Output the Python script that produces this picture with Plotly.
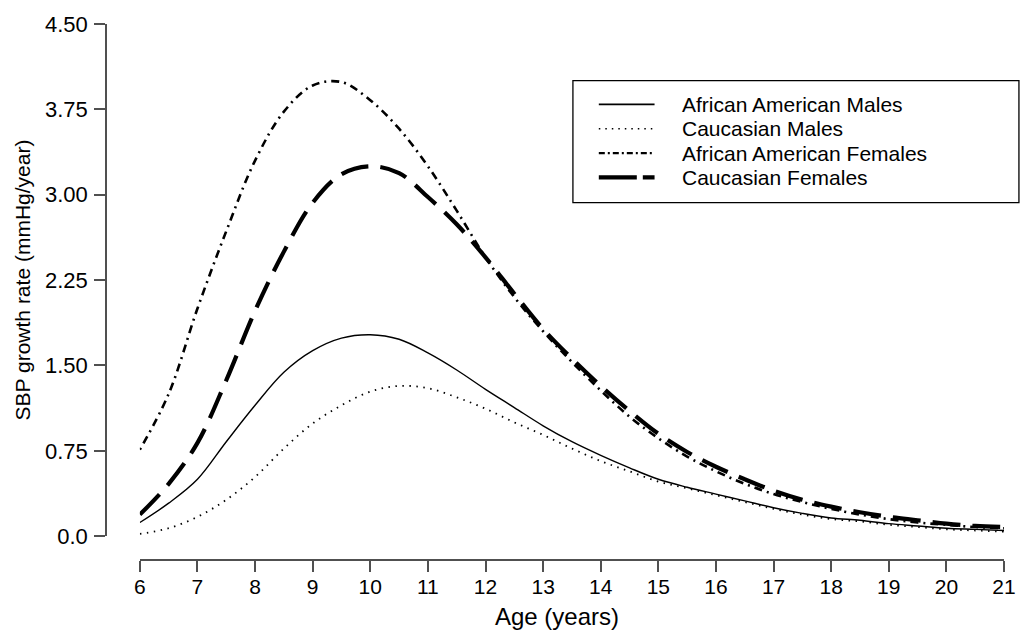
import plotly.graph_objects as go

ages = [6, 6.5, 7, 7.5, 8, 8.5, 9, 9.5, 10, 10.5, 11, 11.5, 12, 12.5, 13, 13.5, 14,
        14.5, 15, 15.5, 16, 16.5, 17, 17.5, 18, 18.5, 19, 19.5, 20, 20.5, 21]

aa_males = [0.12, 0.29, 0.50, 0.83, 1.15, 1.44, 1.63, 1.74, 1.77, 1.73, 1.61, 1.46, 1.29,
            1.13, 0.97, 0.83, 0.71, 0.60, 0.50, 0.43, 0.37, 0.31, 0.25, 0.20, 0.16, 0.14,
            0.11, 0.09, 0.07, 0.06, 0.05]
cau_males = [0.02, 0.07, 0.17, 0.32, 0.52, 0.77, 0.99, 1.15, 1.27, 1.32, 1.30, 1.22, 1.12,
             1.00, 0.89, 0.77, 0.66, 0.57, 0.48, 0.42, 0.36, 0.30, 0.24, 0.19, 0.15, 0.13,
             0.10, 0.08, 0.06, 0.05, 0.04]
aa_females = [0.76, 1.25, 2.00, 2.68, 3.30, 3.73, 3.96, 3.99, 3.83, 3.58, 3.25, 2.86, 2.45,
              2.10, 1.80, 1.53, 1.28, 1.05, 0.86, 0.70, 0.57, 0.46, 0.37, 0.30, 0.24, 0.19,
              0.15, 0.12, 0.10, 0.08, 0.07]
cau_females = [0.19, 0.46, 0.82, 1.37, 1.98, 2.50, 2.93, 3.18, 3.25, 3.19, 2.98, 2.74, 2.45,
               2.13, 1.82, 1.56, 1.32, 1.10, 0.90, 0.74, 0.61, 0.50, 0.40, 0.32, 0.26, 0.21,
               0.17, 0.14, 0.11, 0.09, 0.08]

series_names = ["African American Males", "Caucasian Males",
                "African American Females", "Caucasian Females"]

x_ticks = list(range(6, 22))
y_tickvals = [0, 0.75, 1.5, 2.25, 3.0, 3.75, 4.5]
y_ticktext = ["0.0", "0.75", "1.50", "2.25", "3.00", "3.75", "4.50"]

FONT = "Liberation Sans, Arial, Helvetica, sans-serif"
AXC = "#505050"

styles = [
    dict(width=1.4, dash="solid"),
    dict(width=1.8, dash="1.5px,5.5px"),
    dict(width=2.6, dash="2px,5px,8px,5px"),
    dict(width=4.2, dash="28px,12px"),
]
legend_styles = [
    dict(width=1.6, dash="solid"),
    dict(width=1.4, dash="1.5px,5px"),
    dict(width=2.2, dash="6px,3px,2px,3px"),
    dict(width=4.2, dash="38px,6px"),
]

W, H = 1028, 633
L, R, T, B = 106, 20, 20, 73
pw = W - L - R
ph = H - T - B


def px(p):
    return (p - L) / pw


def py(p):
    return (H - B - p) / ph


fig = go.Figure()
for name, vals, st in zip(series_names, [aa_males, cau_males, aa_females, cau_females], styles):
    fig.add_trace(go.Scatter(
        x=ages, y=vals, mode="lines", name=name, showlegend=False, hoverinfo="skip",
        line=dict(color="black", width=st["width"], dash=st["dash"], shape="spline", smoothing=1.0),
    ))

# legend (drawn manually to match the boxed, tightly spaced original)
shapes = [dict(type="rect", xref="paper", yref="paper",
               x0=px(575), x1=px(1023), y0=py(200), y1=py(77),
               line=dict(color="black", width=1.3), fillcolor="rgba(0,0,0,0)")]
annotations = []
rows = [101, 125.5, 150, 174.5]
for name, st, r in zip(series_names, legend_styles, rows):
    shapes.append(dict(type="line", xref="paper", yref="paper",
                       x0=px(601), x1=px(657), y0=py(r), y1=py(r),
                       line=dict(color="black", width=st["width"], dash=st["dash"])))
    annotations.append(dict(text=name, xref="paper", yref="paper", x=px(683), y=py(r),
                            xanchor="left", yanchor="middle", showarrow=False,
                            font=dict(size=21, family=FONT, color="black")))

annotations += [
    dict(text="Age (years)", xref="paper", yref="paper",
         x=px(559), y=py(617), xanchor="center", yanchor="middle",
         showarrow=False, font=dict(size=24, family=FONT, color="black")),
    dict(text="SBP growth rate (mmHg/year)", xref="paper", yref="paper",
         x=px(22), y=py(278), xanchor="center", yanchor="middle",
         textangle=-90, showarrow=False, font=dict(size=21, family=FONT, color="black")),
]

fig.update_layout(
    width=W, height=H,
    margin=dict(l=L, r=R, t=T, b=B),
    paper_bgcolor="white", plot_bgcolor="white",
    font=dict(family=FONT, size=21, color="black"),
    showlegend=False,
    xaxis=dict(
        domain=[px(140), 1], range=[6, 21], anchor="free", position=0,
        tickvals=x_ticks, ticks="outside", ticklen=11, tickwidth=1.5, tickcolor=AXC,
        showline=True, linecolor=AXC, linewidth=1.5, showgrid=False, zeroline=False,
        tickfont=dict(size=21, color="black"), ticklabelstandoff=-3,
    ),
    yaxis=dict(
        domain=[py(536), 1], range=[0, 4.5], anchor="free", position=0,
        tickvals=y_tickvals, ticktext=y_ticktext, ticks="outside", ticklen=11, tickwidth=1.5,
        tickcolor=AXC, showline=True, linecolor=AXC, linewidth=1.5, showgrid=False,
        zeroline=False, tickfont=dict(size=22, color="black"), ticklabelstandoff=2,
    ),
    shapes=shapes,
    annotations=annotations,
)

fig.write_html("out.html", config={"displayModeBar": False},
               post_script="document.body.style.margin='0px';")
